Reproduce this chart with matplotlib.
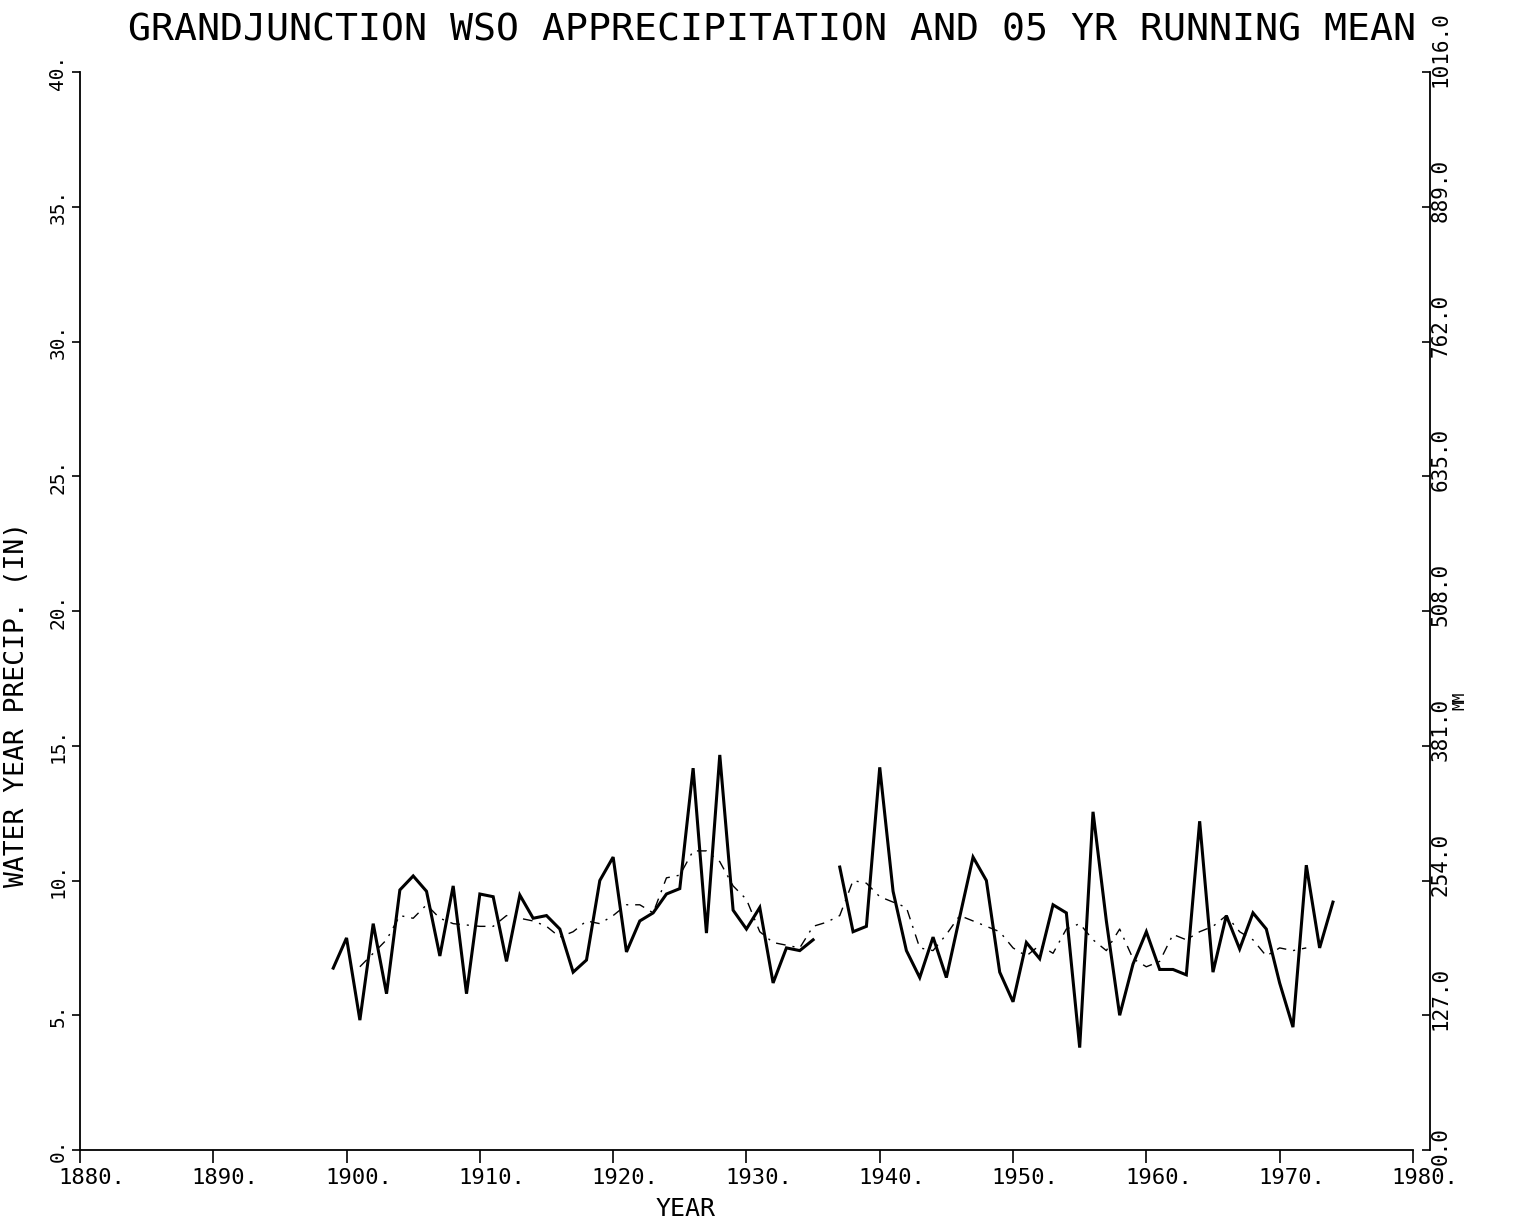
"""Grand Junction WSO water-year precipitation with 5-yr running mean.

Recreates an old pen-plotter chart and saves it as out.png.
Left axis in inches, right axis the same range in millimetres.
"""

import matplotlib

matplotlib.use("Agg")  # no display in the sandbox
import matplotlib.pyplot as plt
import matplotlib.transforms as mtransforms
import numpy as np

FONT = "DejaVu Sans Mono"

# ---------------------------------------------------------------------------
# Data (inches). 1936 is missing in the record.
# ---------------------------------------------------------------------------

YEARS = list(range(1899, 1975))
PRECIP_IN = [
    6.75, 7.87, 4.82, 8.40, 5.80, 9.65, 10.17, 9.60, 7.20, 9.80,   # 1899-1908
    5.80, 9.50, 9.40, 7.00, 9.46, 8.60, 8.70, 8.20, 6.60, 7.05,    # 1909-1918
    10.00, 10.87, 7.35, 8.50, 8.80, 9.50, 9.70, 14.17, 8.05, 14.66,  # 1919-1928
    8.90, 8.20, 9.00, 6.20, 7.50, 7.40, 7.80, np.nan, 10.50, 8.10,  # 1929-1938
    8.30, 14.20, 9.60, 7.40, 6.40, 7.90, 6.40, 8.65, 10.87, 10.00,  # 1939-1948
    6.60, 5.50, 7.70, 7.10, 9.10, 8.80, 3.80, 12.55, 8.50, 5.00,   # 1949-1958
    6.90, 8.10, 6.70, 6.70, 6.50, 12.20, 6.60, 8.70, 7.46, 8.80,   # 1959-1968
    8.20, 6.20, 4.56, 10.57, 7.50, 9.20,                           # 1969-1974
]

MEAN_YEARS = list(range(1901, 1973))
MEAN_IN = [
    6.80, 7.30, 7.80, 8.70, 8.60, 9.10, 8.60, 8.40, 8.35, 8.30,    # 1901-1910
    8.30, 8.70, 8.60, 8.50, 8.30, 7.90, 8.10, 8.50, 8.40, 8.70,    # 1911-1920
    9.10, 9.10, 8.80, 10.10, 10.20, 11.10, 11.10, 10.70, 9.80, 9.30,  # 1921-1930
    8.10, 7.70, 7.60, 7.50, 8.30, 8.45, 8.70, 10.00, 9.90, 9.40,   # 1931-1940
    9.20, 9.00, 7.50, 7.40, 8.00, 8.70, 8.50, 8.30, 8.10, 7.50,    # 1941-1950
    7.20, 7.60, 7.30, 8.20, 8.40, 7.80, 7.40, 8.20, 7.10, 6.80,    # 1951-1960
    7.00, 8.00, 7.80, 8.10, 8.30, 8.70, 8.10, 7.80, 7.20, 7.50,    # 1961-1970
    7.40, 7.50,                                                    # 1971-1972
]

X_TICKS = list(range(1880, 1981, 10))
X_TICK_LABELS = [f"{y}." for y in X_TICKS]
Y_TICKS = list(range(0, 41, 5))
Y_TICK_LABELS = [f"{v}." for v in Y_TICKS]
MM_TICKS = [0.0, 127.0, 254.0, 381.0, 508.0, 635.0, 762.0, 889.0, 1016.0]
MM_TICK_LABELS = [f"{v:.1f}" for v in MM_TICKS]

TITLE = "GRANDJUNCTION WSO APPRECIPITATION AND 05 YR RUNNING MEAN"

plt.rcParams["font.family"] = [FONT, "DejaVu Sans"]

fig = plt.figure(figsize=(15.17, 12.25), dpi=100)
ax = fig.add_axes([0.0527, 0.0612, 0.8787, 0.880])

# ---------------------------------------------------------------------------
# Series
# ---------------------------------------------------------------------------

ax.plot(YEARS, PRECIP_IN, color="black", linewidth=2.2,
        solid_joinstyle="miter")
ax.plot(MEAN_YEARS, MEAN_IN, color="black", linewidth=1.0,
        linestyle=(0, (7, 5, 1.5, 5)))

# ---------------------------------------------------------------------------
# Left / bottom axes
# ---------------------------------------------------------------------------

ax.set_xlim(1880, 1980)
ax.set_ylim(0, 40)
for side in ("top", "right"):
    ax.spines[side].set_visible(False)
for side in ("left", "bottom"):
    ax.spines[side].set_linewidth(1.3)

ax.set_xticks(X_TICKS)
ax.set_xticklabels(X_TICK_LABELS)
ax.set_yticks(Y_TICKS)
ax.set_yticklabels(Y_TICK_LABELS)
ax.tick_params(axis="x", direction="out", length=9, width=1.2, pad=4,
               labelsize=16)
ax.tick_params(axis="y", direction="out", length=6, width=1.2, pad=3,
               labelsize=14, labelrotation=90)
for lbl in ax.get_yticklabels():
    lbl.set_va("center")

# plotter put the year labels a little right of their ticks
shift = mtransforms.ScaledTranslation(0.12, 0, fig.dpi_scale_trans)
for lbl in ax.get_xticklabels():
    lbl.set_transform(lbl.get_transform() + shift)

ax.set_xlabel("YEAR", fontsize=18)
ax.xaxis.set_label_coords(0.454, -0.044)
ax.set_ylabel("WATER YEAR PRECIP. (IN)", fontsize=19)
ax.yaxis.set_label_coords(-0.047, 0.413)
ax.yaxis.label.set_va("center")

# ---------------------------------------------------------------------------
# Right axis in millimetres, drawn a little outside the plot
# ---------------------------------------------------------------------------

ax2 = ax.twinx()
ax2.set_ylim(0, 1016)
for side in ("top", "left", "bottom"):
    ax2.spines[side].set_visible(False)
ax2.spines["right"].set_position(("outward", 12))
ax2.spines["right"].set_linewidth(1.3)
ax2.set_yticks(MM_TICKS)
ax2.tick_params(axis="y", direction="in", length=6, width=1.2,
                labelright=False)

mm_trans = mtransforms.blended_transform_factory(ax2.transAxes, ax2.transData)
mm_trans = mm_trans + mtransforms.ScaledTranslation(0, -0.15,
                                                    fig.dpi_scale_trans)
for val, txt in zip(MM_TICKS, MM_TICK_LABELS):
    ax2.text(1.021, val, txt, transform=mm_trans, rotation=90,
             ha="center", va="bottom", fontsize=15)
ax2.text(1.035, 0.417, "MM", transform=ax2.transAxes, rotation=90,
         ha="center", va="center", fontsize=11)

fig.text(0.509, 0.9755, TITLE, ha="center", va="center", fontsize=27.5)

fig.savefig("out.png", dpi=100)
plt.close(fig)
